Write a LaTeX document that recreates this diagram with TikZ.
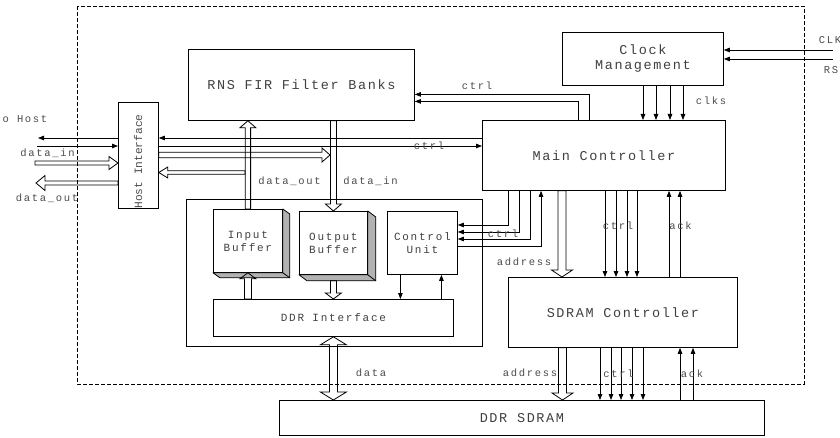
\documentclass[tikz,border=0pt]{standalone}
\usepackage{fontspec}
\newfontfamily\monoB[LetterSpace=12]{Liberation Mono}
\newfontfamily\monoM[LetterSpace=16]{Liberation Mono}
\newfontfamily\mono{Liberation Mono}
\usetikzlibrary{arrows.meta,calc}
\newcommand\fbg{\monoB\fontsize{13.5pt}{15pt}\selectfont}
\newcommand\fmd{\monoM\fontsize{11pt}{13pt}\selectfont}
\newcommand\fsm{\monoM\fontsize{10.5pt}{13pt}\selectfont}
\newcommand\fhost{\mono\fontsize{11.2pt}{12pt}\selectfont}
\begin{document}
\begin{tikzpicture}[x=1pt,y=-1pt,line width=0.8pt,
  arr/.style={-{Triangle[length=6pt,width=4.5pt]}},
  blk/.style={draw,inner sep=0pt,align=center,anchor=north west,text=black!75},
  lbl/.style={inner sep=0pt,font=\fsm,text=black!70},
  shadowf/.style={draw,fill=black!30,line join=round},
  hollowv/.style n args={3}{to path={let \p1=(\tikztostart), \p2=(\tikztotarget), \n1={2*(\y2>\y1)-1} in
    ({\x1-#1},{\y1}) -- ({\x1-#1},{\y2-(\n1)*#3}) -- ({\x1-#2},{\y2-(\n1)*#3}) -- ({\x1},{\y2}) -- ({\x1+#2},{\y2-(\n1)*#3}) -- ({\x1+#1},{\y2-(\n1)*#3}) -- ({\x1+#1},{\y1}) -- cycle}},
  hollowh/.style n args={3}{to path={let \p1=(\tikztostart), \p2=(\tikztotarget), \n1={2*(\x2>\x1)-1} in
    ({\x1},{\y1-#1}) -- ({\x2-(\n1)*#3},{\y1-#1}) -- ({\x2-(\n1)*#3},{\y1-#2}) -- ({\x2},{\y1}) -- ({\x2-(\n1)*#3},{\y1+#2}) -- ({\x2-(\n1)*#3},{\y1+#1}) -- ({\x1},{\y1+#1}) -- cycle}},
  hollowvv/.style n args={3}{to path={let \p1=(\tikztostart), \p2=(\tikztotarget), \n1={2*(\y2>\y1)-1} in
    ({\x1},{\y1}) -- ({\x1-#2},{\y1+(\n1)*#3}) -- ({\x1-#1},{\y1+(\n1)*#3}) -- ({\x1-#1},{\y2-(\n1)*#3}) -- ({\x1-#2},{\y2-(\n1)*#3}) -- ({\x1},{\y2})
    -- ({\x1+#2},{\y2-(\n1)*#3}) -- ({\x1+#1},{\y2-(\n1)*#3}) -- ({\x1+#1},{\y1+(\n1)*#3}) -- ({\x1+#2},{\y1+(\n1)*#3}) -- cycle}}
]
\useasboundingbox (0,0) rectangle (840,438);
\draw[dash pattern=on 4pt off 2pt,line width=0.9pt] (77,6) rectangle (804,384);

% blocks
\node[blk,font=\fbg,minimum width=226pt,minimum height=71pt] (fir) at (188,49) {RNS FIR Filter Banks};
\node[blk,font=\fbg,minimum width=161pt,minimum height=53pt] (clk) at (562,32) {Clock\\Management};
\node[blk,font=\fbg,minimum width=243pt,minimum height=70pt] (main) at (482,120) {Main Controller};
\node[blk,font=\fbg,minimum width=229pt,minimum height=70pt] (sdram) at (508,277) {SDRAM Controller};
\node[blk,font=\fbg,minimum width=485pt,minimum height=35pt] (ddr) at (279,400) {DDR SDRAM};
\node[blk,minimum width=40pt,minimum height=106pt] (host) at (118,102) {};
\node[lbl,font=\fhost,rotate=90] (hosttxt) at (138,161.5) {Host Interface};
\node[blk,minimum width=296pt,minimum height=147pt] (sub) at (186,199) {};
\node[blk,font=\fmd,minimum width=69pt,minimum height=63pt] (inbuf) at (213,209) {Input\\Buffer};
\node[blk,font=\fmd,minimum width=68pt,minimum height=63pt] (outbuf) at (299,211) {Output\\Buffer};
\node[blk,font=\fmd,minimum width=70pt,minimum height=63pt] (cu) at (387,211) {Control\\Unit};
\node[blk,font=\fmd,minimum width=240pt,minimum height=37pt] (ddrif) at (213,299) {DDR Interface};

% 3D sides of buffers
\draw[shadowf] (inbuf.north east) -- ++(7,5) |- ([shift={(7,5)}]inbuf.south west) -- (inbuf.south west) -- (inbuf.south east) -- cycle;
\draw (inbuf.south east) -- ++(7,5);
\draw[shadowf] (outbuf.north east) -- ++(8,6) |- ([shift={(8,6)}]outbuf.south west) -- (outbuf.south west) -- (outbuf.south east) -- cycle;
\draw (outbuf.south east) -- ++(8,6);

% external host side
\coordinate (toHost) at (38,138);
\coordinate (fromExt) at (37,146);
\coordinate (dinExt) at (35,163);
\coordinate (doutExt) at (36,183);
\coordinate (dinHost) at (dinExt -| host.west);
\coordinate (doutHost) at (doutExt -| host.west);
\draw[arr] (toHost -| host.west) -- (toHost);
\draw[arr] (fromExt) -- (fromExt -| host.west);
\draw (dinExt) to[hollowh={2pt}{6.5pt}{9pt}] (dinHost);
\draw (doutHost) to[hollowh={2pt}{7.5pt}{9pt}] (doutExt);

% host <-> main / FIR
\draw[arr] (toHost -| main.west) -- (toHost -| host.east);
\draw[arr] (fromExt -| host.east) -- (fromExt -| main.west);
\coordinate (hinTip) at (330,155);
\coordinate (hinStart) at (hinTip -| host.east);
\draw (hinStart) to[hollowh={2.7pt}{7pt}{8pt}] (hinTip);
\coordinate (houtStart) at (245,172.5);
\coordinate (houtTip) at (houtStart -| host.east);
\draw (houtStart) to[hollowh={1.7pt}{5.5pt}{9pt}] (houtTip);

% FIR <-> buffers
\coordinate (firIn) at (inbuf.north |- fir.south);
\draw (inbuf.north) to[hollowv={2.7pt}{8pt}{7pt}] (firIn);
\coordinate (firOut) at (outbuf.north |- fir.south);
\draw (firOut) to[hollowv={3pt}{8pt}{7pt}] (outbuf.north);
\coordinate (difIn) at (inbuf.south |- ddrif.north);
\draw (difIn) to[hollowv={3.5pt}{8pt}{6pt}] (inbuf.south);
\coordinate (obs) at ([yshift=-6pt]outbuf.south);
\coordinate (difOut) at (obs |- ddrif.north);
\draw (obs) to[hollowv={3pt}{8pt}{6pt}] (difOut);
\coordinate (cuL) at ([xshift=-22pt]cu.south);
\coordinate (cuR) at ([xshift=19pt]cu.south);
\draw[arr] (cuL) -- (cuL |- ddrif.north);
\draw[arr] (cuR |- ddrif.north) -- (cuR);
\coordinate (ddrTop) at (ddrif.south |- ddr.north);
\draw (ddrif.south) to[hollowvv={4pt}{13pt}{8pt}] (ddrTop);

% main -> FIR ctrl
\draw[arr] ([xshift=107pt]main.north west) |- ([yshift=-9.5pt]fir.east);
\draw[arr] ([xshift=96pt]main.north west) |- ([yshift=-16.5pt]fir.east);

% clocks
\coordinate (clkin) at (833,50);
\coordinate (rstin) at (833,59);
\draw[arr] (clkin) -- (clkin -| clk.east);
\draw[arr] (rstin) -- (rstin -| clk.east);
\foreach \dx in {81,94,108,121}{
  \coordinate (ck) at ([xshift=\dx pt]clk.south west);
  \draw[arr] (ck) -- (ck |- main.north);
}

% main <-> control unit
\foreach \dx/\dy in {26/14,37/21,48/28}
  \draw[arr] ([xshift=\dx pt]main.south west) |- ([yshift=-\dy pt]cu.north east);
\draw[arr] ([yshift=-35pt]cu.north east) -| ([xshift=59pt]main.south west);

% main <-> sdram
\coordinate (addr1) at ([xshift=80pt]main.south west);
\coordinate (addr1b) at (addr1 |- sdram.north);
\draw (addr1) to[hollowv={4pt}{10.5pt}{7pt}] (addr1b);
\foreach \dx in {123,134,145,155}{
  \coordinate (mc) at ([xshift=\dx pt]main.south west);
  \draw[arr] (mc) -- (mc |- sdram.north);
}
\foreach \dx in {187,198}{
  \coordinate (ma) at ([xshift=\dx pt]main.south west);
  \draw[arr] (ma |- sdram.north) -- (ma);
}

% sdram <-> ddr
\coordinate (addr2) at ([xshift=54.5pt]sdram.south west);
\coordinate (addr2b) at (addr2 |- ddr.north);
\draw (addr2) to[hollowv={4pt}{10.5pt}{7pt}] (addr2b);
\foreach \dx in {92,103,113,124,135}{
  \coordinate (sc) at ([xshift=\dx pt]sdram.south west);
  \draw[arr] (sc) -- (sc |- ddr.north);
}
\foreach \dx in {172,185}{
  \coordinate (sa) at ([xshift=\dx pt]sdram.south west);
  \draw[arr] (sa |- ddr.north) -- (sa);
}

% labels
\node[lbl] (lToHost) at (21,119) {to Host};
\node[lbl] (lDinL) at (47.5,153) {data\_in};
\node[lbl] (lDoutL) at (47,198) {data\_out};
\node[lbl] (lClk) at (830,40) {CLK};
\node[lbl] (lRst) at (835,70) {RST};
\node[lbl] (lClks) at (711,101) {clks};
\node[lbl] (lCtrlF) at (477,86) {ctrl};
\node[lbl] (lCtrlH) at (429,146) {ctrl};
\node[lbl] (lDoutM) at (289.5,181) {data\_out};
\node[lbl] (lDinM) at (370.5,181) {data\_in};
\node[lbl] (lCtrlC) at (503,234) {ctrl};
\node[lbl] (lAddr1) at (524,262) {address};
\node[lbl] (lCtrlS) at (618,226) {ctrl};
\node[lbl] (lAck1) at (680.5,226) {ack};
\node[lbl] (lAddr2) at (530,373) {address};
\node[lbl] (lCtrlD) at (618.5,374) {ctrl};
\node[lbl] (lAck2) at (692,374) {ack};
\node[lbl] (lData) at (371,373) {data};
\end{tikzpicture}
\end{document}
